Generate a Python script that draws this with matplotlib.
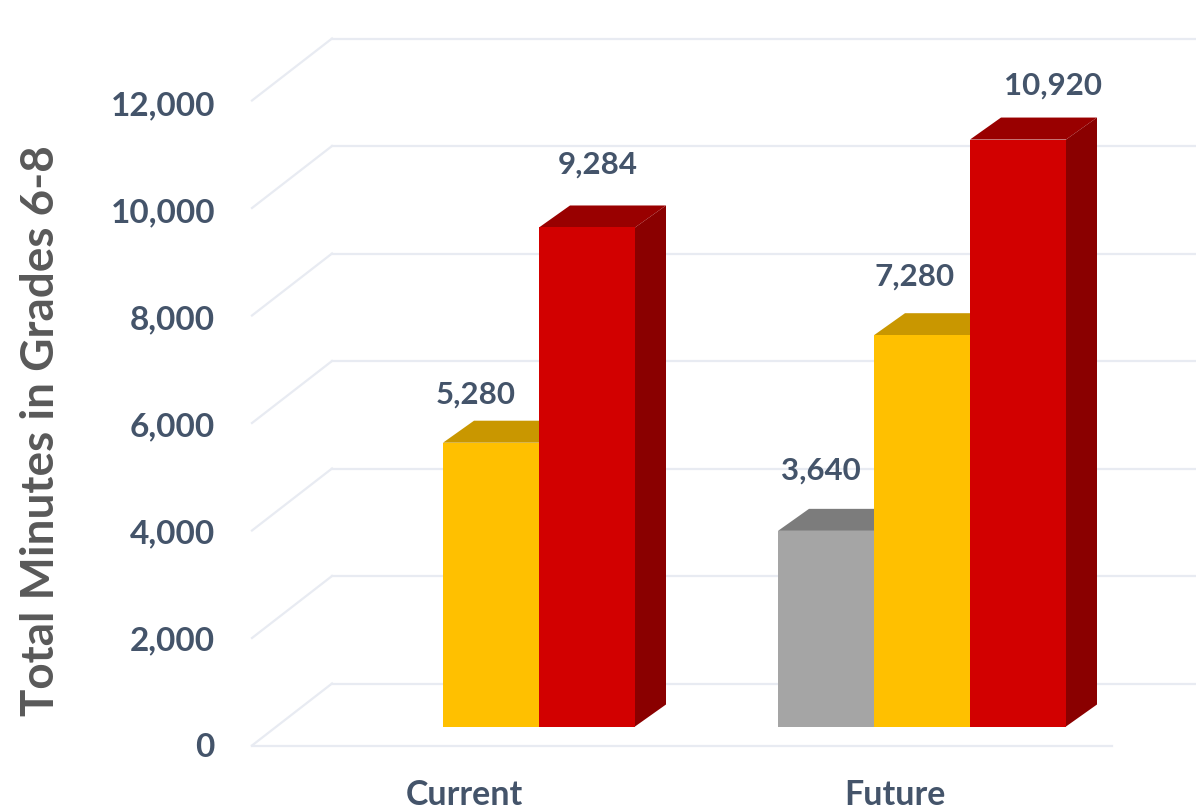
import numpy as np
import matplotlib.pyplot as plt
from matplotlib.patches import Polygon

plt.rcParams['font.family'] = ['Lato', 'DejaVu Sans']

categories = ["Current", "Future"]
gray_vals = [None, 3640]
gold_vals = [5280, 7280]
red_vals = [9284, 10920]
y_ticks = [0, 2000, 4000, 6000, 8000, 10000, 12000]

# (series, slot offset, front, top, side colours)
series = [
    (gray_vals, -1, "#a5a5a5", "#7c7c7c", "#6e6e6e"),
    (gold_vals, 0, "#ffc000", "#c99700", "#a67c00"),
    (red_vals, 1, "#d20000", "#990000", "#8a0000"),
]

# hand placed data label shifts in pixels, same order as the values above
label_dx = {3640: -5, 5280: -15, 7280: -7, 9284: 11, 10920: 35}
label_dy = {3640: 61, 5280: 49, 7280: 60, 9284: 64, 10920: 55}

# figure is 1196x812, one axes over all of it, scales picked from the pixel layout
PX_X = 431.0          # pixels per category
PX_Y = 0.05375        # pixels per minute
bar_w = 96 / PX_X
depth_x = 31 / PX_X
depth_y = 22 / PX_Y
wall_x = 80 / PX_X
wall_y = 62 / PX_Y
front_off = -19 / PX_Y   # floor front edge sits below the bar bases

fig = plt.figure(figsize=(11.96, 8.12), dpi=100)
ax = fig.add_axes([0, 0, 1, 1])
ax.set_xlim(-491 / PX_X, (1196 - 491) / PX_X)
ax.set_ylim(-84.5 / PX_Y, 727.5 / PX_Y)
ax.axis("off")

grid_color = "#e8ebf2"
x_front = (252 - 491) / PX_X
x_end = (1112 - 491) / PX_X
for t in y_ticks:
    ax.plot([x_front, x_front + wall_x], [t + front_off, t + front_off + wall_y],
            color=grid_color, lw=1.6, zorder=1)
    ax.plot([x_front + wall_x, ax.get_xlim()[1]], [t + front_off + wall_y] * 2,
            color=grid_color, lw=1.6, zorder=1)
    # labels sit on a slightly tighter spacing than the grid
    ax.text((215 - 491) / PX_X, t * 0.9955 + front_off - 1.5 / PX_Y, f"{t:,}", ha="right", va="center",
            fontsize=24, fontweight="bold", color="#44546a", zorder=5)
ax.plot([x_front, x_end], [front_off, front_off], color=grid_color, lw=1.6, zorder=1)

for vals, slot, c_front, c_top, c_side in series:
    for i, v in enumerate(vals):
        if v is None:
            continue
        x0 = i + slot * bar_w - bar_w / 2
        x1 = x0 + bar_w
        ax.bar(x0, v, width=bar_w, align="edge", color=c_front, zorder=3 + slot * 0.1)
        ax.add_patch(Polygon([(x0, v), (x1, v), (x1 + depth_x, v + depth_y), (x0 + depth_x, v + depth_y)],
                             closed=True, color=c_top, lw=0, zorder=2.5))
        ax.add_patch(Polygon([(x1, 0), (x1 + depth_x, depth_y), (x1 + depth_x, v + depth_y), (x1, v)],
                             closed=True, color=c_side, lw=0, zorder=2.6))
        ax.text(x0 + bar_w / 2 + label_dx[v] / PX_X, v + label_dy[v] / PX_Y, f"{v:,}", ha="center", va="center",
                fontsize=22.5, fontweight="bold", color="#44546a", zorder=5)

for i, name in enumerate(categories):
    ax.text(i - 27 / PX_X, -67.5 / PX_Y, name, ha="center", va="center",
            fontsize=24.5, fontweight="bold", color="#44546a")

ax.text((41 - 491) / PX_X, (727 - 430) / PX_Y, "Total Minutes in Grades 6-8", rotation=90,
        ha="center", va="center", fontsize=33, fontweight="bold", color="#595959")

fig.savefig("out.png", dpi=100)
